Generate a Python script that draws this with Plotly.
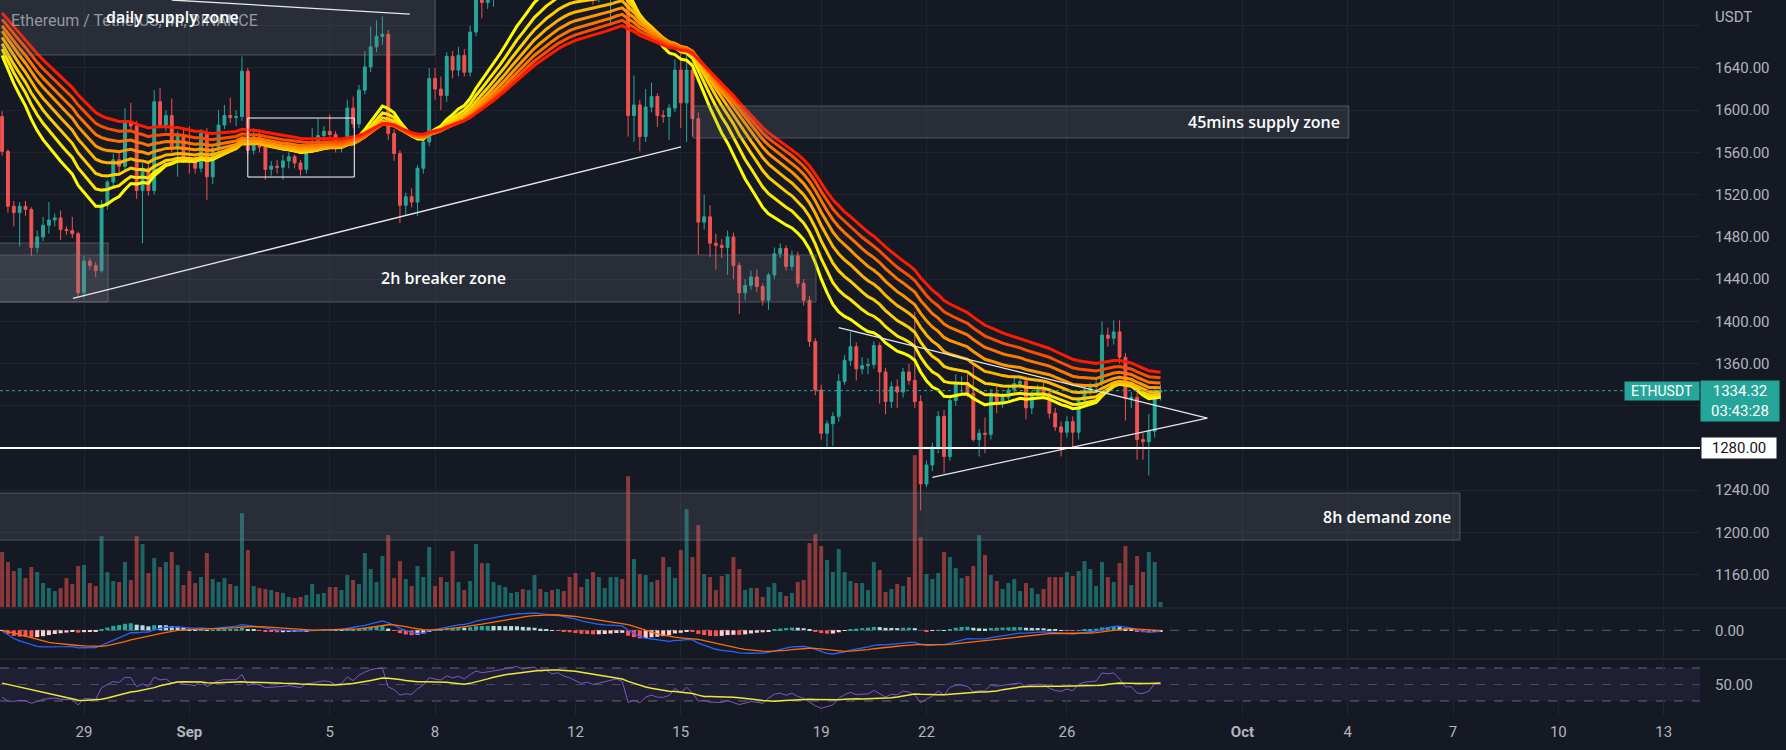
import numpy as np
import pandas as pd
import plotly.graph_objects as go

# ---------------- data (4h candles, one row = one day) ----------------
first_candle = "2022-08-26 16:00"

opens = [
    1594, 1561,
    1509, 1503, 1509, 1506, 1470, 1480,
    1491, 1496, 1498, 1487, 1486, 1483,
    1427, 1457, 1453, 1448, 1510, 1532,
    1553, 1547, 1588, 1585, 1524, 1545,
    1524, 1608, 1586, 1595, 1564, 1577,
    1555, 1552, 1545, 1578, 1537, 1564,
    1586, 1595, 1593, 1594, 1637, 1562,
    1575, 1565, 1544, 1547, 1546, 1552,
    1556, 1550, 1544, 1565, 1568, 1576,
    1580, 1577, 1564, 1569, 1602, 1587,
    1619, 1641, 1660, 1670, 1672, 1578,
    1559, 1510, 1518, 1513, 1545, 1570,
    1630, 1620, 1614, 1651, 1638, 1652,
    1636, 1674, 1712, 1702, 1710, 1722,
    1730, 1745, 1758, 1766, 1756, 1770,
    1772, 1756, 1764, 1750, 1758, 1745,
    1738, 1726, 1714, 1720, 1710, 1716,
    1722, 1728, 1734, 1725, 1595, 1605,
    1575, 1603, 1613, 1595, 1594, 1602,
    1638, 1607, 1638, 1592, 1494, 1499,
    1474, 1472, 1470, 1480, 1453, 1427,
    1434, 1442, 1433, 1420, 1444, 1464,
    1469, 1452, 1462, 1436, 1420, 1381,
    1335, 1294, 1303, 1310, 1343, 1363,
    1376, 1355, 1358, 1359, 1377, 1352,
    1324, 1338, 1333, 1352, 1344, 1324,
    1246, 1264, 1281, 1310, 1272, 1325,
    1341, 1342, 1332, 1288, 1294, 1293,
    1332, 1322, 1328, 1335, 1341, 1343,
    1318, 1330, 1335, 1332, 1313, 1300,
    1295, 1305, 1295, 1325, 1335, 1338,
    1341, 1387, 1384, 1390, 1366, 1327,
    1328, 1288, 1286, 1296, 1333,
]
highs = [
    1599, 1563,
    1514, 1513, 1514, 1508, 1486, 1499,
    1513, 1502, 1505, 1490, 1499, 1485,
    1462, 1460, 1456, 1515, 1534, 1559,
    1560, 1602, 1607, 1590, 1550, 1552,
    1619, 1621, 1600, 1611, 1580, 1582,
    1585, 1558, 1582, 1583, 1566, 1600,
    1605, 1612, 1600, 1651, 1640, 1583,
    1580, 1568, 1552, 1553, 1558, 1560,
    1558, 1553, 1568, 1583, 1592, 1585,
    1596, 1580, 1573, 1610, 1613, 1624,
    1656, 1679, 1685, 1689, 1676, 1582,
    1562, 1522, 1526, 1548, 1572, 1640,
    1640, 1632, 1655, 1656, 1660, 1658,
    1680, 1718, 1716, 1714, 1728, 1738,
    1750, 1765, 1775, 1772, 1778, 1786,
    1780, 1770, 1768, 1764, 1764, 1755,
    1746, 1734, 1728, 1726, 1722, 1728,
    1734, 1740, 1745, 1730, 1633, 1610,
    1620, 1626, 1616, 1600, 1606, 1648,
    1654, 1655, 1645, 1598, 1520, 1510,
    1483, 1478, 1486, 1484, 1456, 1440,
    1448, 1449, 1436, 1446, 1470, 1474,
    1472, 1467, 1466, 1440, 1424, 1384,
    1340, 1306, 1314, 1350, 1368, 1390,
    1380, 1366, 1365, 1381, 1380, 1356,
    1343, 1345, 1356, 1360, 1409, 1330,
    1268, 1285, 1315, 1316, 1330, 1350,
    1348, 1350, 1358, 1298, 1309, 1336,
    1338, 1332, 1340, 1349, 1348, 1348,
    1334, 1340, 1342, 1336, 1318, 1305,
    1310, 1310, 1328, 1338, 1342, 1345,
    1400, 1394, 1401, 1401, 1370, 1333,
    1332, 1294, 1312, 1336, 1340,
]
lows = [
    1557, 1503,
    1490, 1471, 1500, 1462, 1465, 1476,
    1483, 1490, 1477, 1482, 1479, 1423,
    1422, 1449, 1442, 1446, 1506, 1528,
    1540, 1543, 1580, 1516, 1474, 1519,
    1520, 1583, 1580, 1560, 1537, 1550,
    1540, 1540, 1541, 1515, 1530, 1560,
    1582, 1588, 1585, 1590, 1558, 1558,
    1560, 1534, 1538, 1540, 1534, 1545,
    1545, 1538, 1540, 1560, 1565, 1570,
    1572, 1560, 1560, 1565, 1583, 1583,
    1615, 1636, 1655, 1662, 1572, 1552,
    1493, 1500, 1508, 1500, 1540, 1566,
    1610, 1600, 1608, 1630, 1632, 1632,
    1632, 1670, 1687, 1696, 1698, 1715,
    1725, 1738, 1748, 1748, 1750, 1758,
    1748, 1750, 1744, 1742, 1738, 1732,
    1718, 1706, 1704, 1700, 1702, 1708,
    1680, 1718, 1714, 1575, 1570, 1561,
    1570, 1598, 1584, 1588, 1572, 1598,
    1583, 1570, 1575, 1463, 1487, 1461,
    1449, 1460, 1444, 1440, 1407, 1420,
    1430, 1428, 1415, 1411, 1440, 1460,
    1448, 1448, 1432, 1415, 1376, 1330,
    1288, 1281, 1282, 1305, 1340, 1358,
    1344, 1350, 1350, 1355, 1322, 1312,
    1318, 1318, 1328, 1340, 1318, 1221,
    1243, 1258, 1275, 1256, 1268, 1320,
    1330, 1328, 1286, 1272, 1275, 1288,
    1313, 1318, 1325, 1330, 1336, 1307,
    1312, 1326, 1328, 1308, 1296, 1272,
    1290, 1280, 1288, 1320, 1330, 1332,
    1338, 1376, 1378, 1360, 1306, 1318,
    1269, 1269, 1254, 1290, 1325,
]
closes = [
    1561, 1509,
    1503, 1509, 1506, 1470, 1480, 1491,
    1496, 1498, 1487, 1486, 1483, 1427,
    1457, 1453, 1448, 1510, 1532, 1553,
    1547, 1588, 1585, 1524, 1545, 1524,
    1608, 1586, 1595, 1564, 1577, 1555,
    1552, 1545, 1578, 1537, 1564, 1586,
    1595, 1593, 1594, 1637, 1562, 1575,
    1565, 1544, 1547, 1546, 1552, 1556,
    1550, 1544, 1565, 1568, 1576, 1580,
    1577, 1564, 1569, 1602, 1587, 1619,
    1641, 1660, 1670, 1672, 1578, 1559,
    1510, 1518, 1513, 1545, 1570, 1630,
    1620, 1614, 1651, 1638, 1652, 1636,
    1674, 1712, 1702, 1710, 1722, 1730,
    1745, 1758, 1766, 1756, 1770, 1772,
    1756, 1764, 1750, 1758, 1745, 1738,
    1726, 1714, 1720, 1710, 1716, 1722,
    1728, 1734, 1725, 1595, 1605, 1575,
    1603, 1613, 1595, 1594, 1602, 1638,
    1607, 1638, 1592, 1494, 1499, 1474,
    1472, 1470, 1480, 1453, 1427, 1434,
    1442, 1433, 1420, 1444, 1464, 1469,
    1452, 1462, 1436, 1420, 1381, 1335,
    1294, 1303, 1310, 1343, 1363, 1376,
    1355, 1358, 1359, 1377, 1352, 1324,
    1338, 1333, 1352, 1344, 1324, 1246,
    1264, 1281, 1310, 1272, 1325, 1341,
    1342, 1332, 1288, 1294, 1293, 1332,
    1322, 1328, 1335, 1341, 1343, 1318,
    1330, 1335, 1332, 1313, 1300, 1295,
    1305, 1295, 1325, 1335, 1338, 1341,
    1387, 1384, 1390, 1366, 1327, 1328,
    1288, 1286, 1296, 1333, 1334.32,
]
volumes = [
    55, 45,
    36, 39, 29, 40, 35, 24,
    19, 16, 19, 29, 23, 41,
    42, 24, 21, 71, 35, 26,
    25, 45, 27, 71, 63, 34,
    49, 40, 45, 55, 42, 22,
    36, 24, 30, 54, 28, 25,
    29, 23, 21, 94, 57, 21,
    19, 18, 17, 15, 14, 10,
    9, 10, 12, 23, 13, 14,
    20, 20, 17, 32, 27, 23,
    54, 38, 25, 51, 72, 29,
    46, 28, 21, 41, 30, 60,
    21, 30, 25, 56, 25, 17,
    26, 63, 44, 44, 25, 22,
    20, 14, 15, 18, 17, 32,
    18, 15, 17, 18, 16, 30,
    34, 20, 28, 35, 30, 19,
    30, 30, 28, 131, 48, 33,
    32, 25, 27, 50, 40, 29,
    57, 98, 50, 82, 33, 30,
    17, 31, 33, 50, 38, 17,
    19, 19, 10, 20, 24, 15,
    11, 14, 25, 27, 64, 73,
    61, 47, 35, 58, 35, 26,
    24, 24, 17, 45, 37, 15,
    18, 23, 21, 30, 152, 70,
    33, 28, 34, 55, 50, 39,
    29, 31, 41, 72, 52, 32,
    26, 18, 24, 28, 16, 24,
    19, 13, 18, 30, 30, 30,
    35, 31, 36, 46, 38, 21,
    45, 30, 25, 44, 61, 22,
    51, 35, 55, 45, 5,
]

# indicator state at the first visible candle
ribbon_lengths = [20, 25, 30, 35, 40, 45, 50, 55]
ribbon_start = [1652, 1658, 1663, 1669, 1675, 1680, 1686, 1692]
macd_start_fast, macd_start_slow, macd_start_signal = 1648, 1650, -1
rsi_start_gain, rsi_start_loss, rsi_ma_start = 9, 17, 53

price_ticks = [1160, 1200, 1240, 1280, 1320, 1360, 1400, 1440, 1480, 1520, 1560, 1600, 1640, 1680]
hidden_price_labels = [1280, 1320, 1680]   # covered by the price tags / currency label
date_ticks = ["2022-08-29", "2022-09-01", "2022-09-05", "2022-09-08", "2022-09-12", "2022-09-15",
              "2022-09-19", "2022-09-22", "2022-09-26", "2022-10-01", "2022-10-04", "2022-10-07",
              "2022-10-10", "2022-10-13"]
date_labels = ["29", "Sep", "5", "8", "12", "15", "19", "22", "26", "Oct", "4", "7", "10", "13"]
last_price = 1334.32
countdown = "03:43:28"
key_level = 1280

# drawn zones: (label, start, end, low, high)
zones = [
    ("daily supply zone", "2022-08-20 00:00", "2022-09-08 00:00", 1652.3, 1730),
    ("2h breaker zone", "2022-08-20 00:00", "2022-09-18 20:30", 1418.3, 1462.9),
    ("", "2022-08-20 00:00", "2022-08-29 16:30", 1418.3, 1474.2),
    ("45mins supply zone", "2022-09-15 08:30", "2022-10-04 00:45", 1573.7, 1604.0),
    ("8h demand zone", "2022-08-20 00:00", "2022-10-07 04:45", 1192.8, 1237.4),
]
zone_labels = [
    ("daily supply zone", "2022-08-31 12:48", 1688.3, "center"),
    ("2h breaker zone", "2022-09-08 06:00", 1441.0, "center"),
    ("45mins supply zone", "2022-10-03 20:00", 1589.0, "right"),
    ("8h demand zone", "2022-10-07 00:00", 1214.6, "right"),
]
consolidation_box = ("2022-09-02 16:00", "2022-09-05 16:48", 1536.7, 1592.6)
trend_lines = [
    ("2022-08-28 16:24", 1421.8, "2022-09-15 00:12", 1565.2),
    ("2022-08-31 12:00", 1704.4, "2022-09-07 06:48", 1691.1),
    ("2022-09-19 12:00", 1394.0, "2022-09-30 00:00", 1308.4),
    ("2022-09-22 04:00", 1252.2, "2022-09-30 00:00", 1308.4),
]

# ---------------- indicators ----------------
times = pd.date_range(first_candle, periods=len(closes), freq="4h")
c = np.asarray(closes, dtype=float)


def ema(values, length, start):
    a = 2.0 / (length + 1)
    out = np.empty(len(values))
    out[0] = start
    for i in range(1, len(values)):
        out[i] = out[i - 1] + a * (values[i] - out[i - 1])
    return out


ribbon = [ema(c, n, s) for n, s in zip(ribbon_lengths, ribbon_start)]
macd = ema(c, 12, macd_start_fast) - ema(c, 26, macd_start_slow)
signal = ema(macd, 9, macd_start_signal)
hist = macd - signal

ag = np.empty(len(c)); al = np.empty(len(c))
ag[0], al[0] = rsi_start_gain, rsi_start_loss
for i in range(1, len(c)):
    d = c[i] - c[i - 1]
    ag[i] = (ag[i - 1] * 13 + max(d, 0)) / 14
    al[i] = (al[i - 1] * 13 + max(-d, 0)) / 14
rsi = 100 - 100 / (1 + ag / al)
buf = np.concatenate([np.full(13, float(rsi_ma_start)), rsi])
rsi_ma = np.array([buf[i:i + 14].mean() for i in range(len(rsi))])

hist_colors = []
for i, h in enumerate(hist):
    prev = hist[i - 1] if i else h
    if h >= 0:
        hist_colors.append("#26a69a" if h > prev else "#b2dfdb")
    else:
        hist_colors.append("#ff5252" if h < prev else "#ffcdd2")

up = [cl >= op for op, cl in zip(opens, closes)]
vol_colors = ["rgba(38,166,154,0.55)" if u else "rgba(239,83,80,0.55)" for u in up]

# ---------------- styling / layout ----------------
BG = "#151924"
GRID = "#20242f"
TXT = "#b2b5be"
TEAL = "#26a69a"
RED = "#ef5350"
FONT = "Roboto"
ribbon_colors = ["#ffff00", "#ffe800", "#ffd000", "#ffb400", "#ff9600", "#ff7400", "#ff4d00", "#ff1a00"]

PH = 716.0   # plot area height in px
def py(px):
    return 1 - px / PH

bar_ms = 4 * 3600 * 1000

fig = go.Figure()
fig.add_trace(go.Bar(x=times, y=volumes, marker=dict(color=vol_colors, line=dict(width=0)),
                     width=0.68 * bar_ms, xaxis="x", yaxis="y"))
for r, col in zip(ribbon, ribbon_colors):
    fig.add_trace(go.Scatter(x=times, y=r, mode="lines", line=dict(color=col, width=3),
                             xaxis="x", yaxis="y2"))
fig.add_trace(go.Candlestick(
    x=times, open=opens, high=highs, low=lows, close=closes, xaxis="x", yaxis="y2",
    increasing=dict(line=dict(color=TEAL, width=1), fillcolor=TEAL),
    decreasing=dict(line=dict(color=RED, width=1), fillcolor=RED),
    whiskerwidth=0))

fig.add_trace(go.Bar(x=times, y=hist, marker=dict(color=hist_colors, line=dict(width=0)),
                     width=0.7 * bar_ms, xaxis="x", yaxis="y3"))
fig.add_trace(go.Scatter(x=times, y=macd, mode="lines", line=dict(color="#2962ff", width=1.3),
                         xaxis="x", yaxis="y3"))
fig.add_trace(go.Scatter(x=times, y=signal, mode="lines", line=dict(color="#ff6d00", width=1.3),
                         xaxis="x", yaxis="y3"))
fig.add_trace(go.Scatter(x=times, y=rsi, mode="lines", line=dict(color="#7e57c2", width=1),
                         xaxis="x", yaxis="y4"))
fig.add_trace(go.Scatter(x=times, y=rsi_ma, mode="lines", line=dict(color="#eee83a", width=1.5),
                         xaxis="x", yaxis="y4"))

lo = float(min(macd.min(), signal.min(), hist.min()))
hi = float(max(macd.max(), signal.max(), hist.max()))
s = 41.0 / (hi - lo)
macd_range = [lo - 3 / s, hi + 4 / s]

price_range = [1129.4, 1704.4]
tickfont = dict(family=FONT, size=15, color=TXT)

fig.update_layout(
    width=1786, height=750,
    margin=dict(l=0, r=86, t=0, b=34),
    paper_bgcolor=BG, plot_bgcolor=BG,
    showlegend=False, hovermode=False, dragmode=False,
    font=dict(family=FONT, color=TXT),
    xaxis=dict(type="date", range=["2022-08-26 14:34", "2022-10-14 00:50"], domain=[0, 1],
               anchor="y4", showgrid=True, gridcolor=GRID, gridwidth=1, zeroline=False,
               showline=False, tickvals=date_ticks,
               ticktext=[("<b>%s</b>" % t) if t in ("Sep", "Oct") else t for t in date_labels],
               tickfont=tickfont, ticks="outside", ticklen=2, tickcolor="rgba(0,0,0,0)",
               rangeslider=dict(visible=False), fixedrange=True),
    yaxis=dict(domain=[py(607), 1], range=[0, 4 * max(volumes)], visible=False, fixedrange=True),
    yaxis2=dict(overlaying="y", anchor="x", side="right", range=price_range, showgrid=True,
                gridcolor=GRID, zeroline=False, tickvals=price_ticks,
                ticktext=["" if v in hidden_price_labels else "%.2f" % v for v in price_ticks],
                tickfont=tickfont, ticks="outside", ticklen=11, tickcolor="rgba(0,0,0,0)",
                fixedrange=True),
    yaxis3=dict(domain=[py(657), py(609)], anchor="x", side="right", range=macd_range,
                showgrid=False, zeroline=False, tickvals=[0], ticktext=["0.00"], tickfont=tickfont,
                ticks="outside", ticklen=11, tickcolor="rgba(0,0,0,0)", fixedrange=True),
    yaxis4=dict(domain=[0, py(661)], anchor="x", side="right", range=[11.8, 78.5],
                showgrid=False, zeroline=False, tickvals=[50], ticktext=["50.00"], tickfont=tickfont,
                ticks="outside", ticklen=11, tickcolor="rgba(0,0,0,0)", fixedrange=True),
)

shapes = []
for label, x0, x1, y0, y1 in zones:
    shapes.append(dict(type="rect", xref="x", yref="y2", x0=x0, x1=x1, y0=y0, y1=y1, layer="above",
                       fillcolor="rgba(120,123,134,0.2)", line=dict(color="rgba(140,143,154,0.45)", width=1)))
bx0, bx1, by0, by1 = consolidation_box
shapes.append(dict(type="rect", xref="x", yref="y2", x0=bx0, x1=bx1, y0=by0, y1=by1, layer="above",
                   line=dict(color="#ffffff", width=1)))
for x0, y0, x1, y1 in trend_lines:
    shapes.append(dict(type="line", xref="x", yref="y2", x0=x0, y0=y0, x1=x1, y1=y1, layer="above",
                       line=dict(color="#e8e8ea", width=1.3)))
shapes.append(dict(type="line", xref="paper", yref="y2", x0=0, x1=1, y0=key_level, y1=key_level,
                   layer="above", line=dict(color="#ffffff", width=2)))
shapes.append(dict(type="line", xref="paper", yref="y2", x0=0, x1=1, y0=last_price, y1=last_price,
                   layer="above", line=dict(color=TEAL, width=1, dash="dot")))
# indicator pane furniture
shapes.append(dict(type="line", xref="paper", yref="y3", x0=0, x1=1, y0=0, y1=0, layer="below",
                   line=dict(color="rgba(120,123,134,0.7)", width=1, dash="dash")))
shapes.append(dict(type="rect", xref="paper", yref="y4", x0=0, x1=1, y0=30, y1=70, layer="below",
                   fillcolor="rgba(126,87,194,0.1)", line=dict(width=0)))
for lvl, alpha in ((70, 0.8), (50, 0.5), (30, 0.8)):
    shapes.append(dict(type="line", xref="paper", yref="y4", x0=0, x1=1, y0=lvl, y1=lvl, layer="below",
                       line=dict(color="rgba(120,123,134,%s)" % alpha, width=1, dash="dash")))
for px in (608, 659):
    shapes.append(dict(type="line", xref="paper", yref="paper", x0=0, x1=1786 / 1700.0,
                       y0=py(px), y1=py(px), line=dict(color="#2a2e39", width=1)))
fig.update_layout(shapes=shapes)

ann = []
ann.append(dict(text="Ethereum / TetherUS, 4h, BINANCE", xref="paper", yref="paper", x=9 / 1700.0,
                y=py(20), xanchor="left", yanchor="middle", showarrow=False,
                font=dict(family=FONT, size=16, color="#9598a1")))
for text, x, y, anchor in zone_labels:
    ann.append(dict(text=text, xref="x", yref="y2", x=x, y=y, xanchor=anchor, yanchor="middle",
                    showarrow=False, font=dict(family="Open Sans", size=16, color="#ffffff", weight=600)))
ann.append(dict(text="USDT", xref="paper", yref="paper", x=1, y=py(17), xshift=13, xanchor="left",
                yanchor="middle", showarrow=False, font=dict(family=FONT, size=15, color=TXT)))
ann.append(dict(text="%.2f" % key_level, xref="paper", yref="y2", x=1, y=key_level, xshift=1,
                xanchor="left", yanchor="middle", showarrow=False, bgcolor="#ffffff", borderpad=1,
                width=72, align="center", font=dict(family=FONT, size=15, color="#131722")))
ann.append(dict(text="ETHUSDT", xref="paper", yref="y2", x=1, y=last_price, xanchor="right",
                yanchor="middle", showarrow=False, bgcolor=TEAL, borderpad=1, width=72,
                align="center", font=dict(family=FONT, size=14, color="#ffffff")))
ann.append(dict(text="%.2f<br>%s" % (last_price, countdown), xref="paper", yref="y2", x=1,
                y=last_price, yshift=10.5, xanchor="left", yanchor="top", showarrow=False,
                bgcolor=TEAL, borderpad=1, width=76, align="center",
                font=dict(family=FONT, size=15, color="#ffffff")))
fig.update_layout(annotations=ann)

fig.write_html("out.html", include_plotlyjs=True, config={"displayModeBar": False},
               post_script="document.body.style.margin='0px';document.body.style.overflow='hidden';")
